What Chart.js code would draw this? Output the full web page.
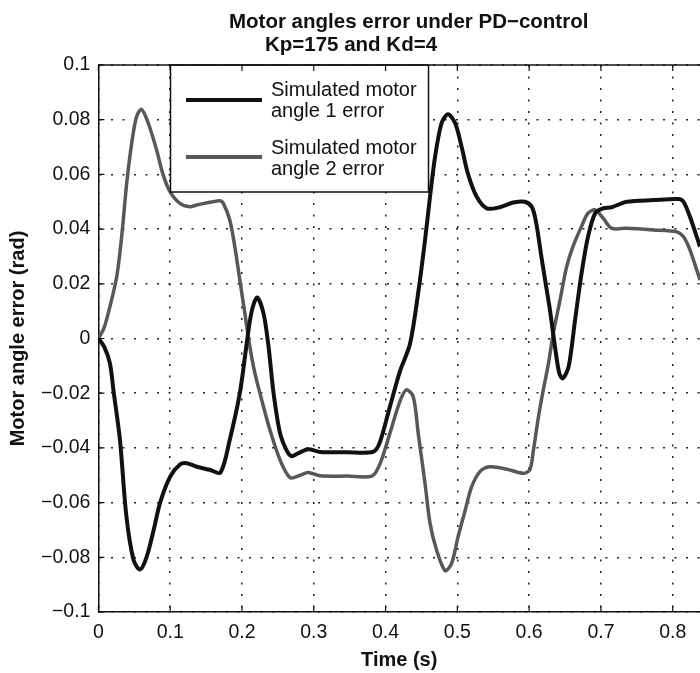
<!DOCTYPE html>
<html>
<head>
<meta charset="utf-8">
<script src="https://cdn.jsdelivr.net/npm/chart.js@4.4.1/dist/chart.umd.min.js"></script>
<style>
  html, body { margin: 0; padding: 0; background: #fff; }
  #wrap { width: 700px; height: 673px; position: relative; }
</style>
</head>
<body>
<div id="wrap"><canvas id="chart"></canvas></div>
<script>
// ── Motor angle errors under PD control ─────────────

const titleLines = ['Motor angles error under PD\u2212control', 'Kp=175 and Kd=4'];
const seriesNames = [
  ['Simulated motor', 'angle 1 error'],
  ['Simulated motor', 'angle 2 error'],
];

// motor 1 (black trace)
const time1 = [0, 0.008, 0.016, 0.021, 0.030, 0.039, 0.049, 0.058, 0.067, 0.077, 0.086, 0.100,
  0.114, 0.123, 0.137, 0.155, 0.170, 0.183, 0.197, 0.206, 0.213, 0.221, 0.230, 0.237, 0.244,
  0.253, 0.262, 0.269, 0.278, 0.292, 0.309, 0.346, 0.383, 0.392, 0.406, 0.420, 0.434, 0.446,
  0.455, 0.462, 0.469, 0.478, 0.487, 0.497, 0.506, 0.515, 0.527, 0.541, 0.559, 0.578, 0.594,
  0.604, 0.610, 0.617, 0.624, 0.629, 0.636, 0.642, 0.647, 0.655, 0.664, 0.673, 0.682, 0.692,
  0.703, 0.715, 0.736, 0.773, 0.808, 0.815, 0.824, 0.838];
const angle1Error = [0, -0.003, -0.009, -0.019, -0.037, -0.065, -0.081, -0.0845, -0.080, -0.070,
  -0.060, -0.0505, -0.046, -0.0456, -0.0469, -0.048, -0.049, -0.037, -0.020, -0.003, 0.0093,
  0.015, 0.0092, -0.003, -0.020, -0.0346, -0.0408, -0.043, -0.042, -0.0405, -0.0415, -0.0416,
  -0.0414, -0.038, -0.025, -0.012, -0.002, 0.0177, 0.036, 0.052, 0.0665, 0.0787, 0.082, 0.0787,
  0.070, 0.060, 0.0518, 0.0476, 0.048, 0.0497, 0.050, 0.048, 0.042, 0.030, 0.0185, 0.0104,
  -0.003, -0.0127, -0.0146, -0.0103, 0.0068, 0.0238, 0.0372, 0.0458, 0.0476, 0.048, 0.050,
  0.0506, 0.051, 0.050, 0.0445, 0.0336];

// motor 2 (grey trace)
const time2 = [0, 0.008, 0.016, 0.0255, 0.0324, 0.0394, 0.0464, 0.053, 0.060, 0.0695, 0.081,
  0.090, 0.0997, 0.1136, 0.1276, 0.137, 0.169, 0.174, 0.183, 0.190, 0.197, 0.204, 0.211, 0.218,
  0.2275, 0.239, 0.253, 0.267, 0.281, 0.292, 0.309, 0.346, 0.381, 0.392, 0.406, 0.420, 0.429,
  0.4386, 0.4455, 0.455, 0.462, 0.471, 0.483, 0.492, 0.501, 0.511, 0.520, 0.5315, 0.545, 0.569,
  0.592, 0.601, 0.606, 0.613, 0.6197, 0.627, 0.6336, 0.643, 0.652, 0.661, 0.673, 0.682, 0.692,
  0.703, 0.715, 0.736, 0.773, 0.8055, 0.815, 0.824, 0.838];
const angle2Error = [0, 0.004, 0.0116, 0.0226, 0.0372, 0.0567, 0.0714, 0.081, 0.0838, 0.0787,
  0.069, 0.060, 0.0537, 0.0494, 0.0482, 0.0488, 0.0504, 0.0494, 0.0433, 0.0336, 0.0214, 0.0092,
  -0.003, -0.0127, -0.0225, -0.0335, -0.0444, -0.0509, -0.050, -0.049, -0.0502, -0.0503,
  -0.0503, -0.046, -0.0347, -0.023, -0.0188, -0.0213, -0.0347, -0.053, -0.0676, -0.0773,
  -0.0849, -0.0822, -0.0725, -0.0627, -0.0542, -0.0487, -0.0469, -0.0478, -0.0493, -0.048,
  -0.0408, -0.0286, -0.0188, -0.009, 0.0019, 0.014, 0.026, 0.0336, 0.041, 0.0458, 0.047, 0.044,
  0.0403, 0.0403, 0.0397, 0.039, 0.0372, 0.0324, 0.0214];

const xTicks = [0, 0.1, 0.2, 0.3, 0.4, 0.5, 0.6, 0.7, 0.8];
const yTicks = [-0.1, -0.08, -0.06, -0.04, -0.02, 0, 0.02, 0.04, 0.06, 0.08, 0.1];

const FONT = "'Liberation Sans', Arial, Helvetica, sans-serif";
const INK = '#111';
const GREY = '#585858';

function toPoints(xs, ys) {
  return xs.map((x, i) => ({ x, y: ys[i] }));
}

// matlab-ish tick text: trimmed decimals, real minus sign
function fmtTick(v) {
  const r = Math.round(v * 1000) / 1000;
  if (r === 0) return '0';
  return String(r).replace('-', '\u2212');
}

// title, top frame edge, inward tick marks, boxed legend
const framePlugin = {
  id: 'frame',
  afterDatasetsDraw(chart) {
    const { ctx, chartArea: a } = chart;
    const bx = 170.5, by = a.top, bw = 258, bh = 127;

    ctx.save();
    ctx.fillStyle = '#fff';
    ctx.fillRect(bx, by, bw, bh);
    ctx.strokeStyle = INK;
    ctx.lineWidth = 1.5;
    ctx.strokeRect(bx, by, bw, bh);

    const rows = [
      { color: INK, width: 4, lineY: 100, base: [96, 117] },
      { color: GREY, width: 4, lineY: 157, base: [153.5, 175] },
    ];
    ctx.font = `20px ${FONT}`;
    ctx.textBaseline = 'alphabetic';
    ctx.textAlign = 'left';
    rows.forEach((r, i) => {
      ctx.strokeStyle = r.color;
      ctx.lineWidth = r.width;
      ctx.beginPath();
      ctx.moveTo(186, r.lineY);
      ctx.lineTo(262, r.lineY);
      ctx.stroke();
      ctx.fillStyle = INK;
      seriesNames[i].forEach((t, j) => ctx.fillText(t, 271, r.base[j]));
    });
    ctx.restore();
  },
  afterDraw(chart) {
    const { ctx, chartArea: a, scales } = chart;
    ctx.save();

    // top edge of the axes box
    ctx.strokeStyle = INK;
    ctx.lineWidth = 1.5;
    ctx.beginPath();
    ctx.moveTo(a.left, a.top);
    ctx.lineTo(a.right, a.top);
    ctx.stroke();

    // short ticks pointing into the plot
    ctx.lineWidth = 1.2;
    ctx.beginPath();
    xTicks.forEach(v => {
      const px = scales.x.getPixelForValue(v);
      ctx.moveTo(px, a.bottom);
      ctx.lineTo(px, a.bottom - 6);
      ctx.moveTo(px, a.top);
      ctx.lineTo(px, a.top + 6);
    });
    yTicks.forEach(v => {
      const py = scales.y.getPixelForValue(v);
      ctx.moveTo(a.left, py);
      ctx.lineTo(a.left + 6, py);
    });
    ctx.stroke();

    // two-line title
    ctx.fillStyle = INK;
    ctx.font = `bold 20.5px ${FONT}`;
    ctx.textAlign = 'left';
    ctx.textBaseline = 'alphabetic';
    ctx.fillText(titleLines[0], 229, 28);
    ctx.fillText(titleLines[1], 265, 51);
    ctx.restore();
  }
};

const gridOpts = { color: '#222', lineWidth: 1.5, drawTicks: false };
const borderOpts = { display: true, color: INK, width: 1.5, dash: [2, 9.5] };

new Chart(document.getElementById('chart'), {
  type: 'line',
  data: {
    datasets: [
      {
        label: seriesNames[0].join(' '),
        data: toPoints(time1, angle1Error),
        borderColor: INK,
        borderWidth: 4,
        pointRadius: 0,
        tension: 0.3,
      },
      {
        label: seriesNames[1].join(' '),
        data: toPoints(time2, angle2Error),
        borderColor: GREY,
        borderWidth: 3.5,
        pointRadius: 0,
        tension: 0.3,
        order: 1,
      },
    ]
  },
  options: {
    responsive: true,
    maintainAspectRatio: false,
    animation: false,
    layout: { padding: { top: 65, right: 0, bottom: 0, left: 0 } },
    plugins: {
      legend: { display: false },
      tooltip: { enabled: false },
    },
    scales: {
      x: {
        type: 'linear',
        min: 0,
        max: 0.838,
        afterBuildTicks: s => { s.ticks = xTicks.map(v => ({ value: v })); },
        afterFit: s => { s.height = 61; },
        grid: gridOpts,
        border: borderOpts,
        ticks: {
          color: INK,
          padding: 9,
          maxRotation: 0,
          font: { family: FONT, size: 19.5 },
          callback: v => fmtTick(v),
        },
        title: {
          display: true,
          text: 'Time (s)',
          color: INK,
          font: { family: FONT, size: 20, weight: 'bold' },
          padding: { top: 0, bottom: 1 },
        },
      },
      y: {
        min: -0.1,
        max: 0.1,
        afterBuildTicks: s => { s.ticks = yTicks.map(v => ({ value: v })); },
        afterFit: s => { s.width = 98.4; },
        grid: gridOpts,
        border: borderOpts,
        ticks: {
          color: INK,
          padding: 8,
          font: { family: FONT, size: 19.5 },
          callback: v => fmtTick(v),
        },
        title: {
          display: true,
          text: 'Motor angle error (rad)',
          color: INK,
          font: { family: FONT, size: 20, weight: 'bold' },
          padding: { top: 6, bottom: 0 },
        },
      },
    }
  },
  plugins: [framePlugin]
});
</script>
</body>
</html>
